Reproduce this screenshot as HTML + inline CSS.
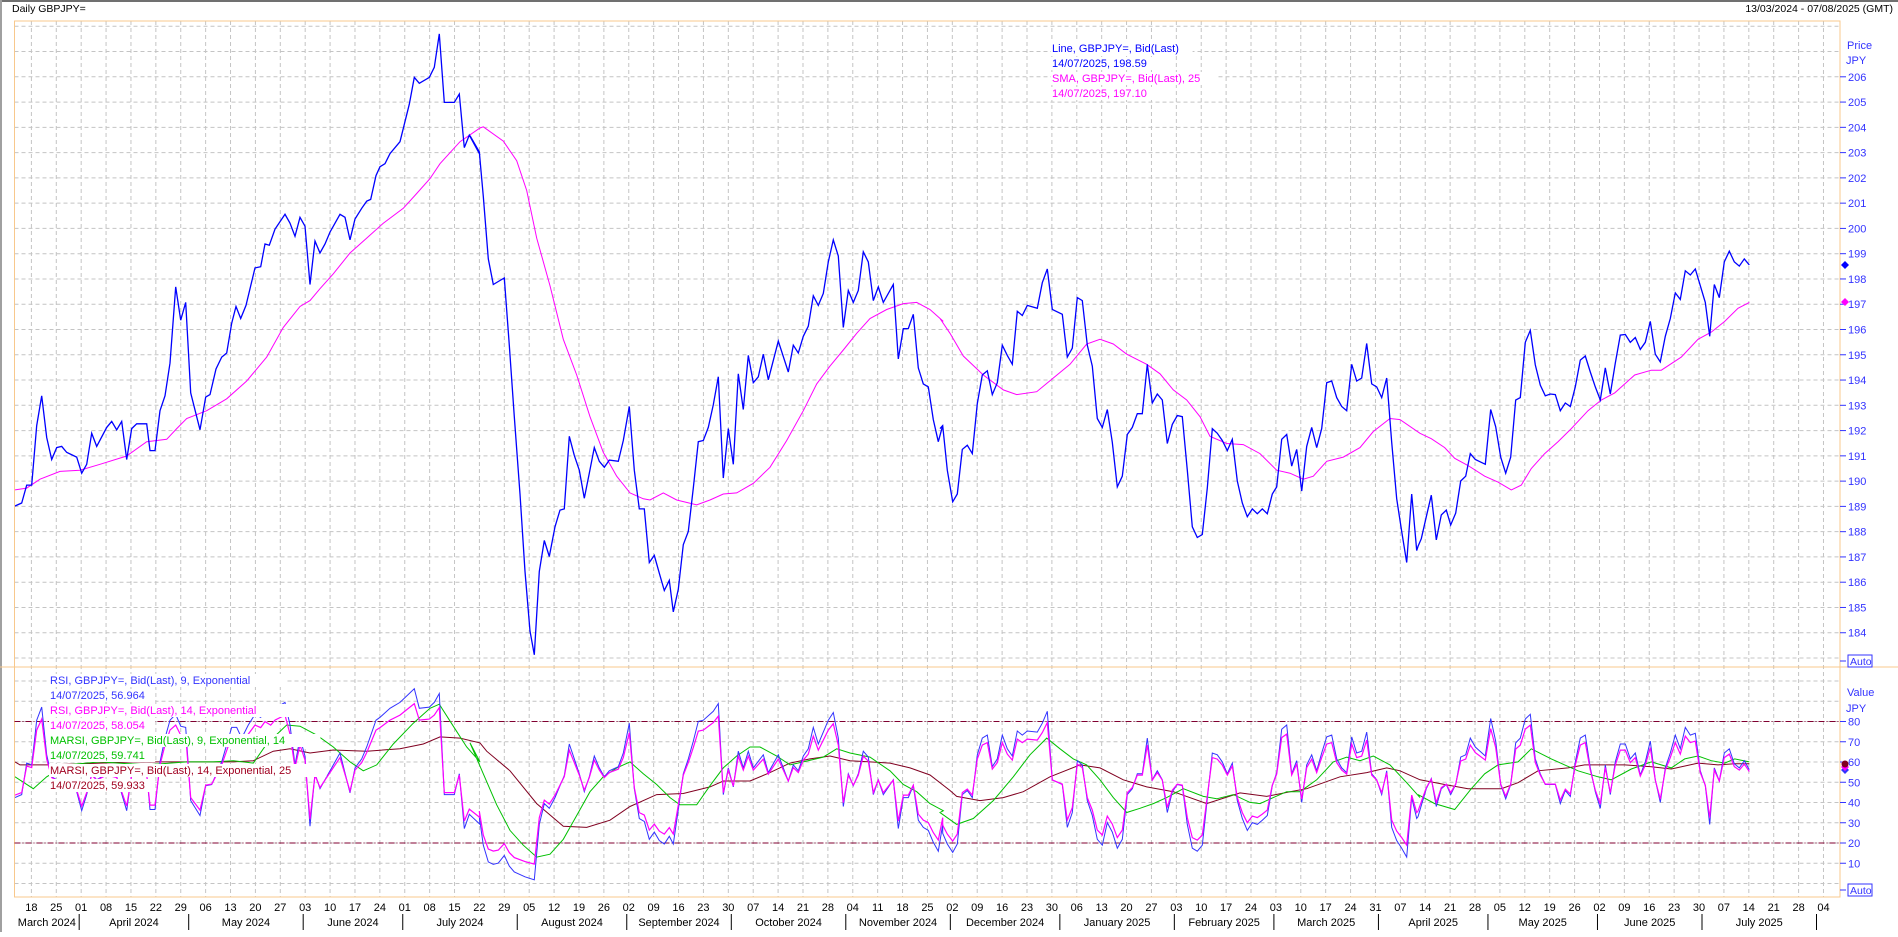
<!DOCTYPE html>
<html><head><meta charset="utf-8">
<style>
html,body{margin:0;padding:0;background:#fff;}
body{width:1898px;height:932px;overflow:hidden;font-family:"Liberation Sans",sans-serif;}
svg text{font-family:"Liberation Sans",sans-serif;}
</style></head>
<body>
<svg id="s" width="1898" height="932" xmlns="http://www.w3.org/2000/svg">
<defs><clipPath id="cp"><rect x="15" y="21" width="1825" height="876"/></clipPath></defs>
<rect x="0" y="0" width="1898" height="932" fill="#fff"/>
<line x1="0" y1="1" x2="1898" y2="1" stroke="#707070" stroke-width="2"/>
<line x1="1" y1="0" x2="1" y2="932" stroke="#a0a0a0" stroke-width="2"/>
<text x="12" y="12" font-size="10.5" fill="#000">Daily GBPJPY=</text>
<text x="1893" y="12" font-size="10.5" fill="#000" text-anchor="end">13/03/2024 - 07/08/2025 (GMT)</text>
<g id="grid"></g>
<g id="series" clip-path="url(#cp)"></g>
<g id="axes"></g>
</svg>
<script>
var NS="http://www.w3.org/2000/svg";
function el(p,t,a,txt){var e=document.createElementNS(NS,t);for(var k in a)e.setAttribute(k,a[k]);if(txt!==undefined)e.textContent=txt;p.appendChild(e);return e;}
var G=document.getElementById('grid'),S=document.getElementById('series'),A=document.getElementById('axes');
var L=14.5,R=1840,T=21,MB=667,LB=897;
function py(p){return 76.8+(206-p)*25.27;}
function vy(v){return 883.5-v*2.025;}
var W=24.89,X0=31.4;
for(var k=0;k<=72;k++){var x=X0+W*k;el(G,'line',{x1:x,y1:T,x2:x,y2:LB,stroke:'#c4c4c4','stroke-dasharray':'4,3'});}
for(var p=183;p<=208;p++){var y=py(p);if(y<T+2||y>MB-4)continue;el(G,'line',{x1:L,y1:y,x2:R,y2:y,stroke:'#c4c4c4','stroke-dasharray':'4,3'});}
for(var v=0;v<=100;v+=10){var y=vy(v);el(G,'line',{x1:L,y1:y,x2:R,y2:y,stroke:'#c4c4c4','stroke-dasharray':'4,3'});}
el(G,'rect',{x:L,y:T,width:R-L,height:LB-T,fill:'none',stroke:'#f8c88c'});
el(G,'line',{x1:0,y1:MB,x2:1898,y2:MB,stroke:'#f8c88c'});
[80,20].forEach(function(v){el(G,'line',{x1:L,y1:vy(v),x2:R,y2:vy(v),stroke:'#800030','stroke-dasharray':'6,2,1,2'});});
function pts(off,arr){var o=[];for(var i=0;i<arr.length;i+=2)o.push((off+arr[i]/3).toFixed(1)+','+(arr[i+1]/1.68).toFixed(1));return o;}
function line(segs,col,w){var all=[];segs.forEach(function(s){all=all.concat(pts(s[0],s[1]));});el(S,'polyline',{points:all.join(' '),fill:'none',stroke:col,'stroke-width':w});}
var blue=[[0,[45,850,65,845,80,815,95,815,110,715,125,665,140,735,155,772,170,752,185,750,200,760,230,768,245,795,260,780,275,728,290,750,320,718,335,708,350,722,365,708,380,772,395,720,410,712,440,712,450,757,465,757,480,690,495,665,510,610,527,482,542,538,557,508,572,660,600,722,617,667,630,663,648,620,665,600,680,593,695,543,708,515,722,535,738,513,765,450,782,448,795,410,808,412,825,385,855,360,870,375,885,397,900,365,915,380,930,478,945,405,960,425,975,410,990,390,1020,360,1035,365,1050,403,1065,368,1085,350,1100,338,1112,335,1128,295,1140,280,1155,275,1170,258,1200,238,1228,175,1243,130,1258,140,1288,130,1303,113,1318,57,1333,172,1363,172,1378,158,1393,248,1408,227,1440,260]],
[470,[0,228,28,255,40,330,55,435,70,478,85,473,103,467,118,580,133,700,150,830,165,960,180,1060,193,1100,208,960,223,908,238,935,255,885,270,857,283,855,298,733,313,765,328,790,343,837,358,795,373,752,388,775,403,785,418,773,445,775,460,740,478,683,493,790,508,855,523,855,538,945,553,933,568,963,583,992,598,975,610,1028,625,990,640,915,655,893,670,820,685,742,700,740,715,718,730,680,745,633,760,803,775,720,790,780,805,628,820,688,835,597,850,643,865,633,880,595,895,638,925,573,955,625,970,580,985,593,1000,565,1015,548,1030,497,1045,513,1060,493,1075,440,1090,403,1105,430,1120,550,1135,488,1150,508,1165,488,1180,423,1195,440,1210,505,1225,482,1240,508,1270,478,1285,603,1300,552,1315,552,1330,528,1345,618,1360,645,1375,650,1390,705,1405,742,1418,715]],
[940,[0,720,8,715,22,790,38,843,52,830,67,755,82,748,97,762,112,678,127,630,142,623,157,663,172,643,187,580,202,597,217,612,232,523,247,530,262,513,292,518,307,475,322,452,337,520,367,528,382,600,397,585,412,500,427,505,442,580,457,615,472,703,487,718,502,688,517,743,532,818,547,800,562,730,577,718,592,695,607,695,622,612,637,677,652,662,667,672,682,745,697,713,712,698,727,700,742,790,757,885,772,903,787,898,802,820,817,720,832,728,847,740,862,757,877,738,892,808,907,845,922,868,937,855,952,863,967,855,982,863,997,830,1010,818,1025,738,1040,730,1055,783,1070,755,1085,825,1100,750,1115,718,1130,752,1145,720,1160,643,1175,640,1190,668,1205,683,1220,690,1235,612,1250,640,1265,635,1280,577,1295,645,1310,650,1325,668,1340,635,1355,743,1370,838,1385,893,1400,945,1415,830,1430,925]],
[1418,[0,918,10,905,25,868,40,832,55,907,70,865,85,857,98,882,113,862,128,808,143,800,157,762,172,772,202,780,218,688,233,717,248,768,263,795,278,768,293,672,307,668,322,575,337,555,352,613,367,647,382,665,397,662,412,663,427,690,442,677,457,683,472,650,487,605,502,598,517,625,532,650,547,672,562,618,577,662,592,610,607,563,622,562,637,575,652,567,667,587,682,575,697,540,712,595,727,608,742,565,757,535,772,492,787,503,802,455,817,462,832,452,847,480,862,508,875,565,889,478,904,500,919,440,934,422,949,440,964,447,979,435,994,445]]];
var sma=[[0,[45,823,80,820,120,805,180,792,240,790,300,780,380,766,440,742,500,738,530,720,560,703,620,690,680,670,740,640,800,600,850,550,900,515,930,505,960,485,1000,460,1050,425,1100,400,1150,375,1210,350,1250,325,1290,300,1320,275,1380,238,1440,215]],
[470,[40,213,100,237,140,270,170,320,200,400,240,480,280,570,320,630,360,700,400,760,440,800,480,828,520,838,540,840,580,828,620,840,680,848,720,840,760,830,800,828,850,812,900,785,950,740,1000,690,1040,645,1080,615,1120,588,1160,560,1200,535,1250,520,1300,510,1340,508,1380,520,1420,540]],
[940,[0,535,30,560,70,598,130,630,190,655,230,663,290,658,340,635,390,612,440,578,480,570,520,578,560,595,620,612,660,628,700,655,740,672,780,700,810,733,860,745,910,747,960,762,1010,790,1050,795,1090,805,1120,800,1160,775,1210,768,1260,752,1300,725,1350,703,1380,705,1440,728]],
[1418,[40,737,80,752,110,770,150,782,200,800,240,810,280,823,310,815,340,787,380,762,420,742,460,720,510,690,550,672,590,660,650,630,700,622,730,622,790,600,840,570,880,558,920,540,960,518,994,508]]];
var rsi=[[0,[45,1340,65,1335,80,1282,95,1285,110,1210,125,1188,140,1268,155,1305,200,1320,230,1330,245,1362,260,1335,275,1300,290,1310,320,1300,350,1305,380,1362,395,1300,440,1300,450,1360,465,1360,480,1280,495,1240,510,1210,527,1200,542,1220,557,1222,572,1345,600,1370,617,1320,635,1318,665,1280,695,1222,710,1222,725,1240,745,1218,765,1200,782,1205,795,1193,812,1200,825,1190,855,1180,870,1218,885,1285,900,1240,915,1270,930,1388,945,1300,960,1325,975,1310,1020,1265,1050,1332,1065,1290,1085,1275,1100,1255,1128,1210,1140,1205,1170,1190,1200,1180,1228,1165,1243,1157,1258,1190,1288,1188,1303,1180,1318,1165,1333,1335,1363,1335,1378,1300,1393,1392,1408,1368,1440,1385]],
[470,[28,1372,40,1420,55,1448,70,1452,85,1450,103,1437,118,1455,133,1465,165,1473,193,1478,208,1385,223,1350,238,1358,255,1340,270,1320,283,1303,298,1250,313,1275,328,1300,343,1330,358,1305,373,1270,388,1290,403,1305,418,1295,445,1288,460,1265,478,1215,493,1325,508,1375,523,1380,538,1410,553,1398,568,1412,583,1418,598,1405,610,1418,625,1360,640,1300,655,1275,670,1245,685,1212,700,1210,730,1195,745,1182,760,1335,775,1290,790,1322,805,1262,820,1290,835,1262,850,1290,880,1268,895,1298,925,1268,955,1312,970,1285,985,1295,1000,1270,1015,1258,1030,1222,1045,1250,1060,1230,1075,1210,1090,1197,1105,1240,1120,1355,1135,1300,1150,1320,1165,1300,1180,1262,1195,1272,1210,1335,1225,1310,1240,1335,1270,1310,1285,1392,1300,1340,1315,1340,1330,1320,1345,1378,1360,1390,1375,1395,1390,1415,1405,1430,1418,1385]],
[940,[8,1400,22,1418,38,1432,52,1418,67,1335,82,1328,97,1340,112,1268,127,1240,142,1235,157,1288,172,1275,187,1235,202,1258,217,1270,232,1228,247,1235,262,1228,292,1230,307,1215,322,1195,337,1310,367,1318,382,1390,397,1365,412,1278,427,1285,442,1345,457,1370,472,1410,487,1420,502,1382,517,1398,532,1425,547,1410,562,1335,577,1325,592,1300,607,1300,622,1240,637,1310,652,1295,667,1310,682,1365,697,1330,712,1318,727,1320,742,1385,757,1425,772,1430,787,1420,802,1342,817,1265,832,1268,847,1280,862,1300,877,1282,892,1345,907,1375,922,1395,937,1382,952,1385,967,1378,982,1370,997,1320,1010,1298,1025,1225,1040,1218,1055,1300,1070,1278,1085,1348,1100,1285,1115,1268,1130,1295,1145,1265,1160,1238,1175,1235,1190,1275,1205,1290,1220,1298,1235,1238,1250,1265,1265,1262,1280,1230,1295,1300,1310,1310,1325,1335,1340,1295,1355,1390,1370,1412,1385,1425,1400,1440,1415,1340,1430,1375]],
[1418,[0,1372,25,1325,40,1308,55,1355,70,1325,85,1318,98,1335,113,1318,128,1272,143,1268,157,1240,172,1255,202,1270,218,1207,233,1245,248,1318,263,1342,278,1318,293,1248,307,1240,322,1208,337,1200,352,1275,367,1300,382,1318,412,1318,427,1350,442,1328,457,1338,472,1280,487,1240,502,1235,517,1290,532,1330,547,1358,562,1285,577,1335,592,1280,607,1250,622,1250,637,1275,652,1265,667,1302,682,1280,697,1245,712,1310,727,1348,742,1290,757,1265,772,1235,787,1258,802,1222,817,1235,832,1232,847,1295,862,1320,875,1385,889,1290,904,1312,919,1265,934,1258,949,1283,964,1290,979,1278,994,1293]]];
var green=[[0,[45,1305,100,1325,140,1305,200,1285,300,1280,440,1285,560,1280,640,1280,700,1278,760,1282,800,1250,860,1218,900,1220,950,1235,1000,1255,1050,1280,1090,1295,1130,1285,1180,1250,1240,1215,1290,1190,1318,1183,1360,1220,1400,1255,1440,1280]],
[470,[0,1248,40,1300,80,1352,120,1395,160,1420,200,1440,240,1435,280,1410,320,1370,360,1330,400,1305,440,1290,480,1280,520,1300,560,1318,600,1340,630,1352,680,1352,720,1320,760,1290,800,1270,840,1255,870,1255,920,1270,960,1285,1000,1280,1060,1272,1100,1258,1140,1265,1200,1272,1260,1295,1300,1318,1340,1330,1380,1350,1420,1362]],
[940,[0,1365,50,1385,100,1375,160,1345,220,1305,270,1268,320,1240,360,1258,400,1275,440,1285,480,1310,520,1340,560,1365,600,1358,640,1350,680,1340,730,1325,790,1338,830,1342,880,1335,930,1348,960,1350,1000,1340,1040,1330,1080,1330,1130,1310,1180,1280,1220,1272,1260,1278,1300,1270,1350,1285,1400,1315,1440,1340]],
[1418,[0,1335,50,1350,110,1360,160,1325,200,1300,240,1285,300,1280,340,1258,400,1275,440,1285,480,1295,540,1305,580,1310,640,1292,700,1280,760,1290,800,1275,840,1270,880,1278,920,1282,950,1275,994,1280]]];
var dred=[[0,[45,1280,60,1285,150,1285,250,1283,400,1280,600,1280,700,1280,760,1278,820,1262,870,1258,930,1265,1000,1260,1100,1262,1200,1258,1270,1250,1320,1238,1380,1240,1440,1248]],
[470,[50,1262,120,1295,200,1350,280,1388,350,1390,420,1378,480,1355,560,1335,640,1333,720,1322,760,1312,840,1312,900,1298,960,1282,1020,1275,1080,1270,1140,1278,1200,1280,1260,1282,1320,1290,1380,1302,1440,1328]],
[940,[50,1338,120,1345,190,1340,250,1330,330,1305,420,1285,480,1290,550,1310,620,1322,700,1330,800,1350,900,1332,980,1338,1050,1330,1100,1325,1200,1305,1280,1298,1340,1290,1380,1295,1440,1310]],
[1418,[80,1318,150,1325,250,1325,300,1315,360,1295,450,1290,500,1285,560,1285,620,1285,700,1288,760,1292,840,1282,900,1285,950,1283,994,1283]]];
var mag=rsi.map(function(s){return [s[0],s[1].map(function(v,i){return i%2?1314+(v-1314)*0.84:v;})];});
line(sma,'#ff00ff',1);
line(blue,'#0000ff',1.3);
line(dred,'#800020',1);
line(green,'#00c000',1);
line(rsi,'#3333ff',1);
line(mag,'#ff00ff',1.2);
var AX='#3333ff';
el(A,'text',{x:1847,y:49,'font-size':11,fill:AX},'Price');
el(A,'text',{x:1846,y:64,'font-size':11,fill:AX},'JPY');
for(var p=184;p<=206;p++){var y=py(p);el(A,'line',{x1:1840,y1:y,x2:1846,y2:y,stroke:AX});el(A,'text',{x:1848,y:y+4,'font-size':11,fill:AX},''+p);}
el(A,'line',{x1:1840,y1:661,x2:1846,y2:661,stroke:AX});
el(A,'rect',{x:1848,y:655,width:24,height:12,fill:'#fff',stroke:AX});
el(A,'text',{x:1850,y:665,'font-size':10.5,fill:AX},'Auto');
el(A,'text',{x:1847,y:696,'font-size':11,fill:AX},'Value');
el(A,'text',{x:1846,y:712,'font-size':11,fill:AX},'JPY');
for(var v=10;v<=80;v+=10){var y=vy(v);el(A,'line',{x1:1840,y1:y,x2:1846,y2:y,stroke:AX});el(A,'text',{x:1848,y:y+4,'font-size':11,fill:AX},''+v);}
el(A,'line',{x1:1840,y1:890,x2:1846,y2:890,stroke:AX});
el(A,'rect',{x:1848,y:884,width:24,height:12,fill:'#fff',stroke:AX});
el(A,'text',{x:1850,y:894,'font-size':10.5,fill:AX},'Auto');
el(A,'polygon',{points:'1841,265 1845,261 1849,265 1845,269',fill:'#0000ff'});
el(A,'polygon',{points:'1841,302 1845,298 1849,302 1845,306',fill:'#ff00ff'});
el(A,'polygon',{points:'1841,770 1845,766 1849,770 1845,774',fill:'#3333ff'});
el(A,'polygon',{points:'1841,767 1845,763 1849,767 1845,771',fill:'#ff00ff'});
el(A,'circle',{cx:1845,cy:764,r:3.5,fill:'#800020'});
function leg(x,y,t,c){var w=t.length*5.9;el(A,'rect',{x:x-1,y:y-10,width:w,height:13,fill:'#fff'});el(A,'text',{x:x,y:y,'font-size':11,fill:c,'xml:space':'preserve'},t);}
leg(1052,52,'Line, GBPJPY=, Bid(Last)','#0000ff');
leg(1052,67,'14/07/2025, 198.59','#0000ff');
leg(1052,82,'SMA, GBPJPY=, Bid(Last),  25','#ff00ff');
leg(1052,97,'14/07/2025, 197.10','#ff00ff');
var lg=[['RSI, GBPJPY=, Bid(Last),  9, Exponential','#3333ff'],['14/07/2025, 56.964','#3333ff'],['RSI, GBPJPY=, Bid(Last),  14, Exponential','#ff00ff'],['14/07/2025, 58.054','#ff00ff'],['MARSI, GBPJPY=, Bid(Last),  9, Exponential, 14','#00c000'],['14/07/2025, 59.741','#00c000'],['MARSI, GBPJPY=, Bid(Last),  14, Exponential, 25','#a00020'],['14/07/2025, 59.933','#a00020']];
lg.forEach(function(l,i){leg(50,684+i*15,l[0],l[1]);});
var d0=new Date(Date.UTC(2024,2,18));
function xOf(dt){var days=Math.round((dt-d0)/864e5);var wk=Math.floor(days/7),wd=days-wk*7;if(wd>4)wd=4;return X0+W*wk+wd*4.978;}
for(var k=0;k<=72;k++){var dt=new Date(d0.getTime()+k*7*864e5);var x=X0+W*k;var d=dt.getUTCDate();el(A,'text',{x:x,y:911,'font-size':11,fill:'#000','text-anchor':'middle'},(d<10?'0':'')+d);}
var months=['January','February','March','April','May','June','July','August','September','October','November','December'];
var bounds=[];for(var m=3;m<=19;m++){var y=2024+Math.floor(m/12),mm=m%12;var dt=new Date(Date.UTC(y,mm,1));var wd=dt.getUTCDay();if(wd==6)dt=new Date(dt.getTime()+2*864e5);if(wd==0)dt=new Date(dt.getTime()+864e5);bounds.push([xOf(dt)-2,months[(m-1)%12]+' '+(2024+Math.floor((m-1)/12))]);}
var prev=L;bounds.forEach(function(b){var x=b[0];if(x>R)x=null;if(x!==null)el(A,'line',{x1:x,y1:914,x2:x,y2:930,stroke:'#000'});var end=x===null?1823:x;el(A,'text',{x:(prev+end)/2,y:926,'font-size':11,fill:'#000','text-anchor':'middle'},b[1]);prev=x===null?end:x;});
</script>
</body></html>
